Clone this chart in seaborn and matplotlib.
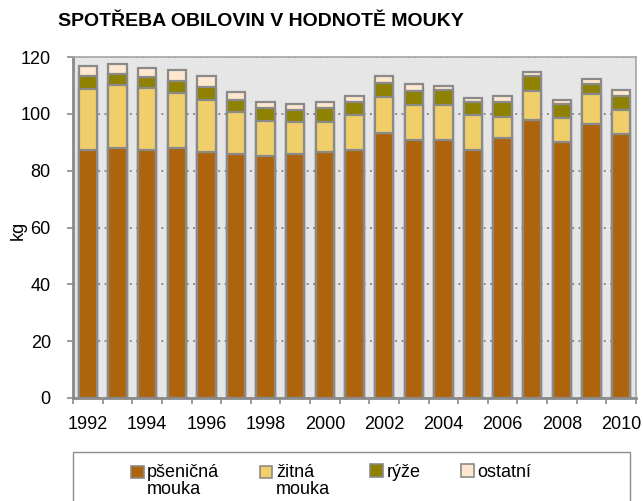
"""Spotřeba obilovin v hodnotě mouky - stacked bars."""
import matplotlib
matplotlib.use("Agg")
import matplotlib.pyplot as plt
from matplotlib.legend_handler import HandlerPatch
from matplotlib.patches import Patch, Rectangle
import numpy as np
import seaborn as sns

years = [str(y) for y in range(1992, 2011)]
psenicna = [87.3, 87.9, 87.3, 87.9, 86.4, 85.8, 85.0, 85.7, 86.4, 87.3,
            93.4, 90.8, 90.8, 87.3, 91.5, 97.9, 90.1, 96.5, 93.0]
zitna = [21.6, 22.4, 21.7, 19.6, 18.3, 14.7, 12.6, 11.3, 10.6, 12.2,
         12.5, 12.4, 12.4, 12.2, 7.5, 10.3, 8.4, 10.5, 8.2]
ryze = [4.5, 3.8, 3.9, 4.2, 4.9, 4.2, 4.5, 4.4, 5.1, 4.5,
        5.1, 5.0, 5.3, 4.7, 5.0, 5.2, 5.0, 3.6, 4.9]
ostatni = [3.5, 3.5, 3.3, 3.8, 3.8, 3.0, 2.1, 2.1, 2.1, 2.3,
           2.4, 2.4, 1.4, 1.4, 2.3, 1.4, 1.4, 1.8, 2.4]

labels = ["pšeničná\nmouka", "žitná\nmouka", "rýže", "ostatní"]
colors = ["#AE640C", "#F0CE6A", "#8E8200", "#FDE8CF"]
edge = "#8A8A8A"

sns.set_theme(style="white")
plt.rcParams["font.family"] = ["Liberation Sans", "DejaVu Sans"]
for k in ["text.color", "axes.labelcolor", "xtick.labelcolor", "ytick.labelcolor"]:
    plt.rcParams[k] = "black"

fig = plt.figure(figsize=(6.43, 5.01), dpi=100)
ax = fig.add_axes([73 / 643, 1 - 398 / 501, 563 / 643, 341 / 501])
ax.set_facecolor("#E6E6E6")

series = [psenicna, zitna, ryze, ostatni]
cum = np.cumsum(np.array(series), axis=0)
# draw totals first, smaller sums on top
for i in range(3, -1, -1):
    sns.barplot(x=years, y=cum[i], color=colors[i], saturation=1,
                width=0.62, edgecolor=edge, linewidth=1.6, ax=ax, zorder=3)

ax.set_ylim(0, 120)
ax.set_xlim(-0.5, len(years) - 0.5)
ax.set_yticks(range(0, 121, 20))
ax.yaxis.grid(True, color="#7F7F7F", linestyle=(0, (1, 2.5)), linewidth=1.3)
ax.set_axisbelow(True)

even = [i for i, y in enumerate(years) if int(y) % 2 == 0]
ax.set_xticks(even)
ax.set_xticklabels([years[i] for i in even])
ax.set_xticks(np.arange(-0.5, len(years), 1.0), minor=True)
ax.tick_params(axis="x", which="major", length=0, pad=13, labelsize=13)
ax.tick_params(axis="x", which="minor", length=4, width=1.2, color="#8A8A8A",
               direction="out", bottom=True)
ax.tick_params(axis="y", length=4, width=1.2, color="#8A8A8A", pad=12,
               labelsize=13, left=True)
ax.set_xlabel("")
ax.set_ylabel("")

for s in ["left", "bottom"]:
    ax.spines[s].set_color("#8A8A8A")
    ax.spines[s].set_linewidth(2)
for s in ["top", "right"]:
    ax.spines[s].set_color("#A6A6A6")
    ax.spines[s].set_linewidth(1.2)

fig.text(261 / 643, 1 - 22 / 501, "SPOTŘEBA OBILOVIN V HODNOTĚ MOUKY",
         ha="center", va="center", fontsize=14, fontweight="bold")
fig.text(18 / 643, 1 - 230 / 501, "kg", rotation=90, ha="center",
         va="center", fontsize=13)

# legend frame
fig.patches.append(Rectangle((72.7 / 643, -0.1), (630 - 72.7) / 643,
                             0.1 + 1 - 451.7 / 501, transform=fig.transFigure,
                             fill=False, edgecolor="#8C8C8C", linewidth=1))


def top_square(legend, orig_handle, xdescent, ydescent, width, height, fontsize):
    # put the swatch next to the first line of a two-line label
    return Rectangle((-xdescent, -ydescent + 6.5), width, height)


handles = [Patch(facecolor=c, edgecolor=edge, linewidth=1.2) for c in colors]
hmap = {h: HandlerPatch(patch_func=top_square) for h in handles[:2]}
leg = fig.legend(handles, labels, loc="upper left", ncol=4, mode="expand",
                 bbox_to_anchor=(131 / 643, 1 - 469 / 501, 400 / 643, 0.01),
                 frameon=False, fontsize=13, borderpad=0, handlelength=0.7,
                 handleheight=0.7, handletextpad=0.2, borderaxespad=0,
                 handler_map=hmap)
leg._legend_handle_box.align = "top"
for t in leg.get_texts():
    t.set_linespacing(1.0)

fig.savefig("out.png", dpi=100)
